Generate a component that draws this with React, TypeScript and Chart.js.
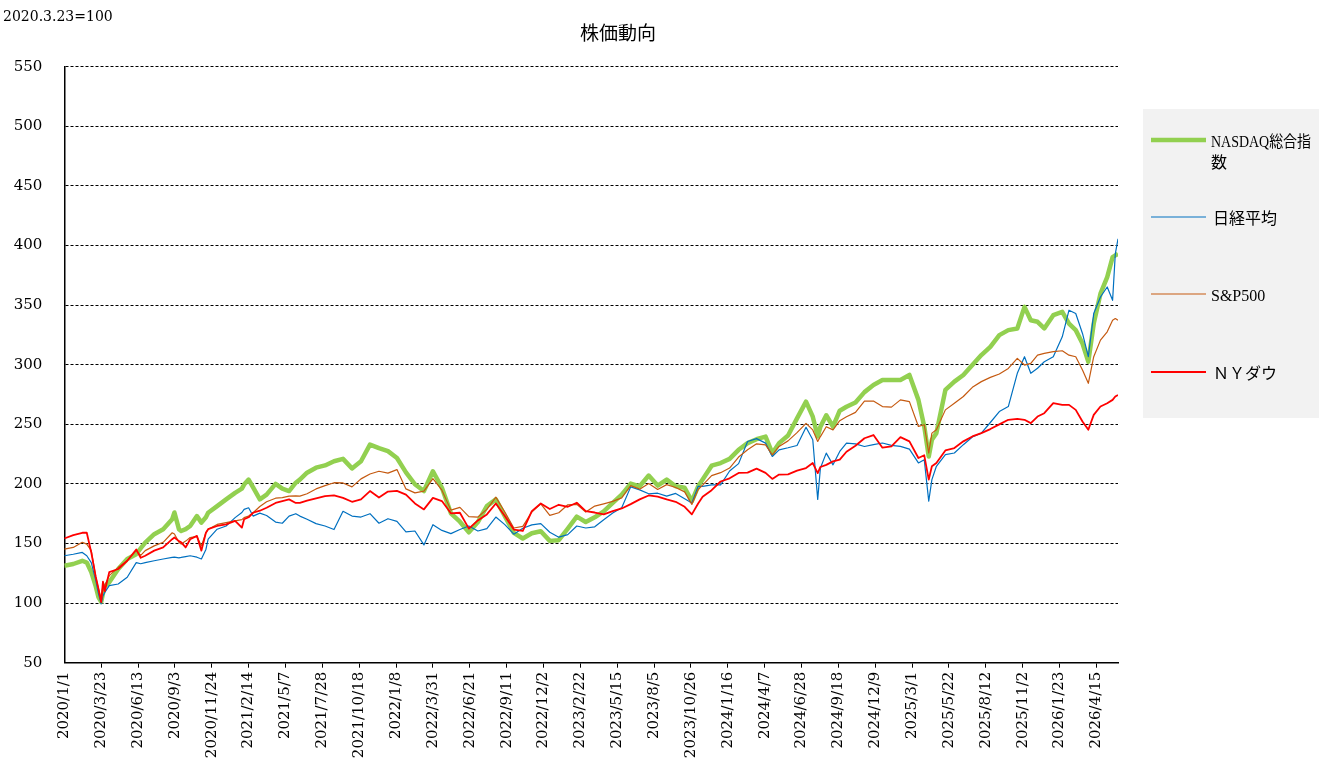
import React, { useEffect, useRef } from "react";
import { Chart, registerables } from "chart.js";

Chart.register(...registerables);

const W = 1323;
const H = 758;

// x-axis tick labels (every 82 days from 2020/1/1)
const xTickLabels = [
  "2020/1/1", "2020/3/23", "2020/6/13", "2020/9/3", "2020/11/24",
  "2021/2/14", "2021/5/7", "2021/7/28", "2021/10/18", "2022/1/8",
  "2022/3/31", "2022/6/21", "2022/9/11", "2022/12/2", "2023/2/22",
  "2023/5/15", "2023/8/5", "2023/10/26", "2024/1/16", "2024/4/7",
  "2024/6/28", "2024/9/18", "2024/12/9", "2025/3/1", "2025/5/22",
  "2025/8/12", "2025/11/2", "2026/1/23", "2026/4/15",
];
const xTickStepDays = 82;
const xMaxDay = 2344;
const yTicks = [50, 100, 150, 200, 250, 300, 350, 400, 450, 500, 550];

// days elapsed since 2020/1/1
const days = [
  0, 20, 40, 50, 60, 70, 76, 82, 86, 90, 100, 120, 140, 160, 170, 180, 200, 220, 240, 245,
  255, 260, 270, 280, 295, 305, 315, 320, 340, 360, 380, 395, 400, 410, 420, 435, 450, 470, 485, 500,
  515, 524,
  540, 560, 580, 600, 620, 640, 660, 680, 700, 720, 740, 760, 780, 800, 820, 840, 860, 880, 900, 920,
  940, 960, 980, 1000, 1020, 1040, 1060, 1080, 1100, 1120, 1140, 1160, 1180,
  1200, 1220, 1240, 1260, 1280, 1300, 1320, 1340, 1360, 1380, 1396, 1410, 1420, 1440, 1460, 1480, 1500,
  1520, 1540, 1560, 1575, 1590, 1610, 1630, 1650, 1665, 1676, 1682, 1695, 1710, 1725, 1740, 1760, 1780, 1800,
  1820, 1840, 1860, 1880, 1900, 1913, 1923, 1930, 1940, 1960, 1980, 2000, 2020, 2040, 2060, 2080, 2100,
  2120, 2136, 2150, 2165, 2180, 2200, 2220, 2235, 2250, 2265, 2278, 2290, 2305, 2320, 2332, 2338, 2344,
];

const nasdaq = [
  131.4, 132.8, 135.5, 134, 126, 114, 105, 101, 108, 114, 117.5, 128.6, 137, 141, 146, 150.8, 157.8, 162, 170.3, 176,
  162, 160.5, 162, 164.7, 173, 167.5, 172, 175.8, 181.4, 187, 192.5, 196, 199.4, 203.6, 197, 187, 191, 200, 196, 194,
  201, 203.6,
  209.4, 213.6, 215.5, 219, 221, 213, 219, 233, 230, 227.5, 221.7, 209.7, 199.7, 194, 210.6, 196.7, 175.3, 168.3, 159.4, 168,
  181.4, 187, 173, 158.9, 154.2, 158.6, 160.3, 152.2, 152.8, 162.5, 172.5, 168, 172,
  177, 184, 191, 200.3, 198, 207, 198.6, 203.6, 198, 196.7, 185.6, 198, 203.6, 215.3, 217.5, 221, 228.6,
  234.2, 237.5, 239.7, 225.8, 234.2, 240.6, 255, 269, 256.4, 239.7, 248, 257.6, 248, 261.4, 264.7, 268.3, 277, 283,
  287.2, 287.2, 287.2, 291.4, 270.5, 248.2, 223, 237, 242.6, 278.8, 285.8, 291.4, 299.7, 308.1, 315, 324.8, 329,
  330.4, 348.5, 337.3, 336, 330.4, 341.5, 344.3, 334.5, 329, 317.8, 302.5, 334.5, 359.6, 373.5, 390.3, 391.7, 393,
];

const nikkei = [
  139.7, 141, 142.5, 139.7, 134, 119, 108, 99.4, 106, 109, 114.7, 116, 121.7, 134, 133, 134, 135.5, 137, 138.3, 138.5,
  138, 138.3, 139, 139.7, 138.5, 137, 145, 153.6, 162, 164.7, 171.7, 176, 178.6, 180, 173, 175.5, 173.5, 168, 167, 173,
  175, 173,
  170.3, 166.7, 164.7, 161.7, 177, 173, 172.2, 175, 167, 170.8, 168.6, 159.7, 160.5, 148.8, 165.8, 161, 158.3, 161.7, 164.7, 160.5,
  162.5, 172.2, 165.8, 157.8, 162.8, 165.6, 166.7, 159.4, 155.3, 157.5, 164.7, 163, 164,
  170, 175.6, 180, 197.5, 195, 191.7, 192.2, 189.7, 192, 187.5, 184, 198, 198, 199.2, 199.2, 210.8, 217,
  235.6, 238, 234.2, 223, 228.6, 230.3, 232.2, 247.5, 237, 187, 213.3, 225.8, 216, 227.2, 234.2, 233.6, 231.4, 233,
  234.3, 232.3, 231.5, 229.2, 217.6, 220.3, 185.5, 203.6, 214.8, 224.5, 225.9, 232.9, 239.3, 242.6, 251.5, 260.7, 264.9,
  292.8, 306.7, 292.8, 297, 302.5, 306.7, 323.4, 345.7, 342.9, 326.2, 306.7, 342.9, 356.8, 365.2, 354, 393, 405.6,
];

const sp500 = [
  145.3, 146.7, 151, 149.5, 144, 122, 112, 102, 110, 115, 123, 130, 135.5, 144, 140, 144, 148, 151, 159, 158,
  151, 149.5, 152, 155, 156, 148, 159, 162, 166, 167.5, 169, 170, 171.7, 173, 175.8, 181, 185, 188, 188.5, 189.7,
  190, 189.7,
  191.7, 195.8, 198.6, 201, 200.8, 197.5, 204.2, 208.3, 210.6, 209, 212, 195.8, 192.5, 194, 204.4, 194.7, 178, 180.3, 172.5, 172.2,
  178.6, 188.9, 176.4, 163, 164.4, 176.4, 183.3, 173.6, 175.8, 182.5, 182.8, 176.4, 181.4,
  183.3, 185.3, 188.3, 198.6, 195.6, 200.3, 195.3, 199.4, 197, 193.3, 182.8, 195.3, 199, 207, 209.4, 213.3, 222.5,
  228.6, 233.6, 232.8, 224.4, 231.4, 236.1, 243, 250.8, 245.3, 235.6, 239.7, 248, 245.3, 253, 256.4, 260, 269.4, 269.5,
  264.9, 264.4, 270.5, 269, 248.2, 249.6, 225.9, 242.6, 245.4, 262.1, 267.7, 273.3, 281, 285.8, 289.4, 292.2, 296.9,
  305.3, 299.7, 301.1, 308, 309.5, 310.9, 311.7, 308, 306.7, 295.5, 284.4, 306.7, 320.6, 327.6, 337.3, 338.7, 337.3,
];

const nyDow = [
  154.2, 157, 159, 159, 142.5, 122, 112, 100.8, 118, 110, 126, 128.6, 135.5, 145, 138, 139.7, 144, 146.7, 153.6, 155,
  152, 151, 146.7, 153.6, 156.4, 144, 159, 162, 164.7, 166, 169, 163.3, 170.3, 172, 175.8, 177.5, 180, 184, 185.6, 187,
  184, 184,
  186, 187.8, 189.7, 190.3, 188.3, 185, 187, 194, 188.6, 193.6, 194.2, 191, 183.6, 178.6, 188.3, 185.6, 175.3, 175.8, 162.5, 169.4,
  174.4, 183.6, 173, 161.7, 160.5, 177.2, 183.6, 178.9, 182.5, 180.8, 184.2, 177.2, 176,
  174.4, 177.2, 179.4, 183, 187, 190.3, 189.4, 187, 185, 180.8, 174.4, 183.6, 189.2, 194.7, 202, 204.7, 209.2,
  209.4, 212.8, 209.2, 204.2, 207.8, 208, 211.1, 213.3, 217.5, 209, 214.2, 216, 218.9, 220.3, 227, 232, 238.3, 241,
  230.4, 231.5, 239.2, 235.7, 221.7, 224, 203.6, 214.8, 217.6, 228.1, 230.1, 235.7, 239.8, 242.6, 246, 249.9, 253.8,
  254.6, 253.8, 251, 256.5, 259.3, 267.7, 266.3, 266.3, 262.1, 252.4, 245.4, 257.9, 264.9, 267.7, 270.5, 273.3, 274.6,
];

const seriesNames = ["NASDAQ総合指数", "日経平均", "S&P500", "ＮＹダウ"];
const legendLines = [["NASDAQ総合指", "数"], ["日経平均"], ["S&P500"], ["ＮＹダウ"]];
const seriesColors = ["#92D050", "#0070C0", "#C55A11", "#FF0000"];
const seriesWidths = [4.5, 1.2, 1.2, 1.8];
const titleText = "株価動向";
const noteText = "2020.3.23=100";

const SERIF = "'DejaVu Serif', 'Liberation Serif', serif";
const CJK = "'Noto Sans CJK JP', sans-serif";

const textPlugin = {
  id: "customTexts",
  afterDraw(chart: any) {
    const ctx: CanvasRenderingContext2D = chart.ctx;
    ctx.save();
    ctx.fillStyle = "#000";
    ctx.textBaseline = "alphabetic";
    ctx.textAlign = "left";
    ctx.font = `14px ${SERIF}`;
    ctx.fillText(noteText, 3, 21);

    ctx.font = `19px ${CJK}`;
    ctx.textAlign = "center";
    ctx.fillText(titleText, 618, 40);

    // legend box
    ctx.fillStyle = "#F2F2F2";
    ctx.fillRect(1143, 109, 176, 309);

    const lineYs = [140, 217, 294, 372];
    const textXs = [1211, 1213, 1211, 1213];
    ctx.textAlign = "left";
    for (let i = 0; i < seriesNames.length; i++) {
      ctx.strokeStyle = seriesColors[i];
      ctx.lineWidth = seriesWidths[i];
      ctx.lineCap = "butt";
      ctx.beginPath();
      ctx.moveTo(1151, lineYs[i]);
      ctx.lineTo(1206, lineYs[i]);
      ctx.stroke();
      ctx.fillStyle = "#000";
      ctx.font = `16px 'Liberation Serif', ${CJK}`;
      const lines = legendLines[i];
      for (let j = 0; j < lines.length; j++) {
        ctx.fillText(lines[j], textXs[i], lineYs[i] + 7 + j * 21, 100);
      }
    }
    ctx.restore();
  },
};

export default function App() {
  const ref = useRef<HTMLCanvasElement>(null);

  useEffect(() => {
    const canvas = ref.current;
    if (!canvas) return;
    const mk = (arr: number[]) => days.map((d, i) => ({ x: d, y: arr[i] }));
    const seriesData = [nasdaq, nikkei, sp500, nyDow];
    const orders = [4, 3, 2, 1];
    const chart = new Chart(canvas, {
      type: "line",
      data: {
        datasets: seriesData.map((arr, i) => ({
          label: seriesNames[i],
          data: mk(arr),
          borderColor: seriesColors[i],
          backgroundColor: seriesColors[i],
          borderWidth: seriesWidths[i],
          pointRadius: 0,
          pointHoverRadius: 0,
          tension: 0,
          fill: false,
          order: orders[i],
          borderJoinStyle: "round" as const,
        })),
      },
      options: {
        responsive: false,
        maintainAspectRatio: false,
        animation: false,
        devicePixelRatio: 1,
        events: [],
        layout: { padding: { left: 0, right: W - 1118, top: 66.7, bottom: 0 } },
        plugins: {
          legend: { display: false },
          tooltip: { enabled: false },
          title: { display: false },
        },
        scales: {
          x: {
            type: "linear",
            min: 0,
            max: xMaxDay,
            afterFit: (s: any) => {
              s.height = H - 662.7;
            },
            ticks: {
              stepSize: xTickStepDays,
              autoSkip: false,
              maxRotation: 90,
              minRotation: 90,
              includeBounds: false,
              padding: 4,
              color: "#000",
              font: { family: SERIF, size: 15 },
              callback: (v: any) => xTickLabels[Math.round(Number(v) / xTickStepDays)] ?? "",
            },
            grid: {
              drawOnChartArea: false,
              drawTicks: true,
              tickLength: 5,
              lineWidth: 1,
              color: (c: any) => (c.tick && c.tick.value === 0 ? "rgba(0,0,0,0)" : "#000"),
            },
            border: { display: true, color: "#000", width: 1.5 },
          },
          y: {
            type: "linear",
            min: yTicks[0],
            max: yTicks[yTicks.length - 1],
            afterFit: (s: any) => {
              s.width = 64.3;
            },
            ticks: {
              stepSize: yTicks[1] - yTicks[0],
              padding: 22,
              color: "#000",
              font: { family: SERIF, size: 15 },
            },
            grid: {
              drawTicks: false,
              lineWidth: 1,
              color: (c: any) => (c.tick && c.tick.value === yTicks[0] ? "rgba(0,0,0,0)" : "#000"),
            },
            border: { display: true, color: "#000", width: 1.5, dash: [3, 2] },
          },
        },
      },
      plugins: [textPlugin],
    } as any);

    let alive = true;
    if ((document as any).fonts && (document as any).fonts.ready) {
      (document as any).fonts.ready.then(() => {
        if (alive) chart.update();
      });
    }
    return () => {
      alive = false;
      chart.destroy();
    };
  }, []);

  return (
    <div style={{ position: "absolute", left: 0, top: 0, width: W, height: H, background: "#fff" }}>
      <canvas ref={ref} width={W} height={H} style={{ display: "block", width: W, height: H }} />
    </div>
  );
}
